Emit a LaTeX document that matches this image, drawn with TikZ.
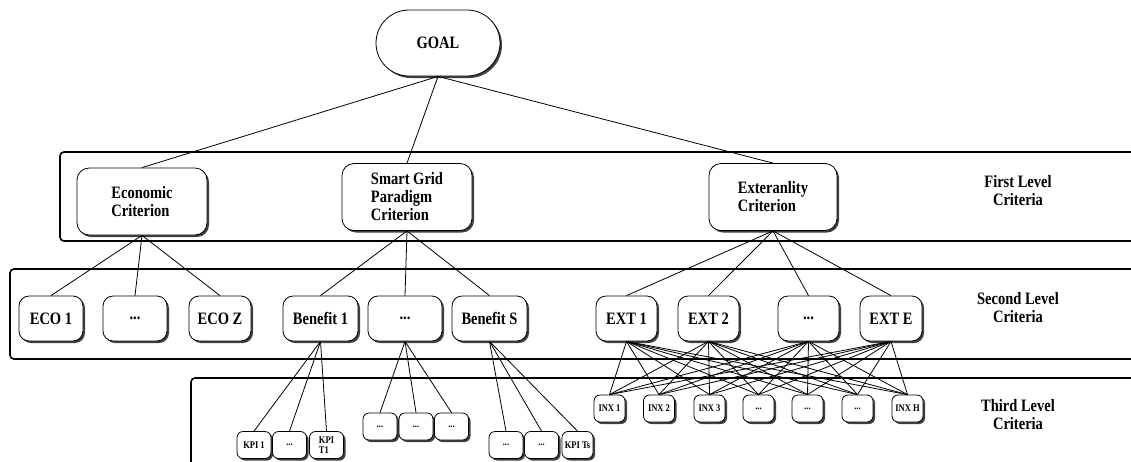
\documentclass[tikz,border=0pt]{standalone}
\usepackage{fontspec}
\setmainfont{Liberation Serif}
% a narrowed serif: tall letters at the usual widths
\newfontfamily\tallserif{Liberation Serif}[FakeStretch=0.833]
\usetikzlibrary{shadows}

\tikzset{
  frame/.style={draw, line width=1.6pt, rounded corners=4pt},
  boxbase/.style={draw, fill=white, line width=0.8pt, inner sep=0pt,
    drop shadow={shadow xshift=2pt, shadow yshift=-2pt, fill=black!75, opacity=1}},
  bigfont/.style={font=\tallserif\bfseries\fontsize{17.4}{18}\selectfont},
  goalbox/.style={boxbase, bigfont, rounded corners=33pt, minimum width=124pt, minimum height=66pt},
  crit/.style={boxbase, bigfont, rounded corners=12pt, minimum width=130pt, minimum height=67pt, align=left},
  subbox/.style={boxbase, bigfont, rounded corners=10pt, minimum height=45pt},
  indbox/.style={boxbase, rounded corners=6pt, minimum height=27pt, minimum width=34pt, align=left,
    font=\tallserif\bfseries\fontsize{10.2}{10.5}\selectfont},
  inxbox/.style={indbox, minimum width=31pt},
  lvllabel/.style={bigfont, align=center},
  link/.style={line width=0.8pt}
}

\begin{document}
\begin{tikzpicture}[x=1pt, y=-1pt]
\clip (0,0) rectangle (1131,461);

% level frames
\draw[frame] (60,152) rectangle (1150,241);
\draw[frame] (10,269) rectangle (1150,359);
\draw[frame] (191,378) rectangle (1150,480);

% goal
\node[goalbox] (goal) at (438,43) {GOAL};

% first level
\node[crit] (eco)   at (142,201.5) {Economic\\Criterion};
\node[crit] (sg)    at (407,197)   {Smart Grid\\Paradigm\\Criterion};
\node[crit, minimum width=128pt] (ext) at (773,197) {Exteranlity\\Criterion};

% second level
\node[subbox, minimum width=64pt] (eco1) at (51,318.5)  {ECO 1};
\node[subbox, minimum width=64pt] (ecod) at (135,318.5) {...};
\node[subbox, minimum width=62pt] (ecoz) at (220,318.5) {ECO Z};
\node[subbox, minimum width=75pt] (ben1) at (320.5,318.5) {Benefit 1};
\node[subbox, minimum width=74pt] (bend) at (405,318.5) {...};
\node[subbox, minimum width=75pt] (bens) at (489.5,318.5) {Benefit S};
\node[subbox, minimum width=61pt] (ext1) at (626.5,318.5) {EXT 1};
\node[subbox, minimum width=61pt] (ext2) at (708.5,318.5) {EXT 2};
\node[subbox, minimum width=61pt] (extd) at (808.5,318.5) {...};
\node[subbox, minimum width=62pt] (exte) at (891,318.5) {EXT E};

% third level: benefit indicators
\node[indbox] (kpi1)  at (254,445) {KPI 1};
\node[indbox] (kpid)  at (289.5,445) {...};
\node[indbox] (kpit)  at (326.5,445) {KPI\\T1};
\node[indbox] (mid1)  at (380,426.5) {...};
\node[indbox] (mid2)  at (416,426.5) {...};
\node[indbox] (mid3)  at (451.5,426.5) {...};
\node[indbox] (s1)    at (506,445) {...};
\node[indbox] (s2)    at (541.5,445) {...};
\node[inxbox] (kpits) at (577.5,445) {KPI Ts};

% third level: externality indices
\node[inxbox] (inx1) at (609.5,408.5) {INX 1};
\node[inxbox] (inx2) at (659,408.5)   {INX 2};
\node[inxbox] (inx3) at (709.5,408.5) {INX 3};
\node[inxbox] (inx4) at (758.5,408.5) {...};
\node[inxbox] (inx5) at (807.5,408.5) {...};
\node[inxbox] (inx6) at (857.5,408.5) {...};
\node[inxbox] (inx7) at (907.5,408.5) {INX H};

% level labels
\node[lvllabel] (l1) at (1018,191) {First Level\\Criteria};
\node[lvllabel] (l2) at (1018,308) {Second Level\\Criteria};
\node[lvllabel] (l3) at (1018,415) {Third Level\\Criteria};

% connectors
\foreach \c in {eco, sg, ext} \draw[link] (goal.south) -- (\c.north);
\foreach \c in {eco1, ecod, ecoz} \draw[link] (eco.south) -- (\c.north);
\foreach \c in {ben1, bend, bens} \draw[link] (sg.south) -- (\c.north);
\foreach \c in {ext1, ext2, extd, exte} \draw[link] (ext.south) -- (\c.north);
\foreach \c in {kpi1, kpid, kpit} \draw[link] (ben1.south) -- (\c.north);
\foreach \c in {mid1, mid2, mid3} \draw[link] (bend.south) -- (\c.north);
\foreach \c in {s1, s2, kpits} \draw[link] (bens.south) -- (\c.north);
\foreach \p in {ext1, ext2, extd, exte}
  \foreach \c in {inx1, inx2, inx3, inx4, inx5, inx6, inx7}
    \draw[link] (\p.south) -- (\c.north);

\end{tikzpicture}
\end{document}
